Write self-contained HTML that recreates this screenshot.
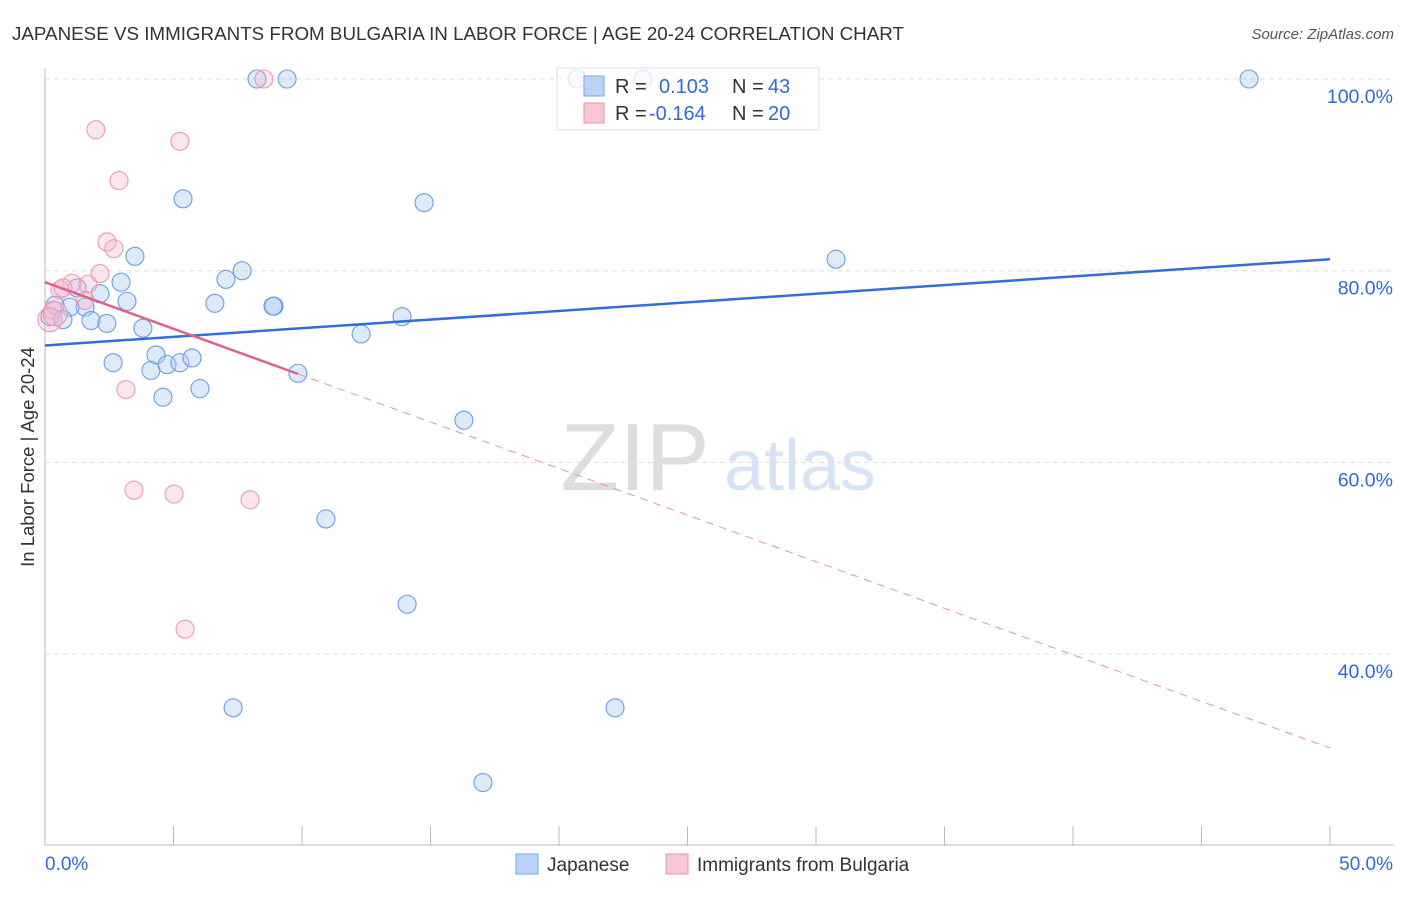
<!DOCTYPE html>
<html><head><meta charset="utf-8"><style>
body{margin:0;background:#fff;font-family:"Liberation Sans",sans-serif;}
svg text{font-family:"Liberation Sans",sans-serif;}
</style></head><body>
<svg id="c" width="1406" height="892" xmlns="http://www.w3.org/2000/svg">
<text x="12" y="40" font-size="18.8" fill="#333">JAPANESE VS IMMIGRANTS FROM BULGARIA IN LABOR FORCE | AGE 20-24 CORRELATION CHART</text>
<text x="1394" y="39" font-size="15" fill="#555" text-anchor="end" font-style="italic">Source: ZipAtlas.com</text>
<text x="34" y="457" font-size="18.5" fill="#333" text-anchor="middle" transform="rotate(-90 34 457)">In Labor Force | Age 20-24</text>
<g><text x="635" y="490" font-size="96" fill="#ddd" font-family="Liberation Serif" text-anchor="middle">ZIP</text><text x="800" y="490" font-size="72" fill="#d6e4f5" text-anchor="middle">atlas</text></g>
<g id="grid"></g><g id="axes"></g><g id="pts"></g><g id="lines"></g>
<g>
<rect x="557" y="68" width="262" height="62" fill="rgba(255,255,255,0.75)" stroke="#ddd"/>
<rect x="584" y="76" width="20" height="20" fill="#b9d3f5" stroke="#7aa6e6"/>
<text x="615" y="93" font-size="20" fill="#333">R = </text><text x="659" y="93" font-size="20" fill="#2f6bd1">0.103</text>
<text x="732" y="93" font-size="20" fill="#333">N = </text><text x="768" y="93" font-size="20" fill="#2f6bd1">43</text>
<rect x="584" y="103" width="20" height="20" fill="#f8c6d4" stroke="#e891ab"/>
<text x="615" y="120" font-size="20" fill="#333">R = </text><text x="649" y="120" font-size="20" fill="#2f6bd1">-0.164</text>
<text x="732" y="120" font-size="20" fill="#333">N = </text><text x="768" y="120" font-size="20" fill="#2f6bd1">20</text>
</g>
<g>
<rect x="516" y="854" width="22" height="20" fill="#b9d3f5" stroke="#7aa6e6"/>
<text x="547" y="871" font-size="19" fill="#333">Japanese</text>
<rect x="666" y="854" width="22" height="20" fill="#f8c6d4" stroke="#e891ab"/>
<text x="697" y="871" font-size="19" fill="#333">Immigrants from Bulgaria</text>
</g>
</svg>
<script>
const jx=[8.25,9.42,20.7,23.27,46.85,5.37,14.75,3.5,30.78,2.96,2.14,3.19,1.25,1.56,0.97,0.39,0.19,0.7,1.79,2.41,3.81,6.61,7.04,7.67,8.91,8.87,2.65,4.32,4.12,4.75,5.25,5.72,4.59,6.03,9.84,13.89,12.3,16.3,10.93,14.09,7.32,22.18,17.04];
const jy=[100,100,100,100,100,87.5,87.1,81.5,81.2,78.8,77.6,76.8,78.2,76.2,76.2,76.4,75.2,74.9,74.8,74.5,74.0,76.6,79.1,80.0,76.3,76.3,70.4,71.2,69.6,70.2,70.4,70.9,66.8,67.7,69.3,75.2,73.4,64.4,54.1,45.2,34.4,34.4,26.6];
const bx=[8.52,1.98,5.25,2.88,2.41,2.68,2.14,1.05,1.67,0.58,0.7,1.56,0.31,3.15,3.46,5.02,7.98,5.45,0.19,0.4];
const by=[100,94.7,93.5,89.4,83.0,82.3,79.7,78.7,78.6,78.0,78.2,76.9,75.9,67.6,57.1,56.7,56.1,42.6,74.9,75.5];
const jTrend=[72.2,81.2], bTrend=[78.8,30.2], bSolidEnd=9.84;
const yTicks=[100,80,60,40], xTicks=[0,5,10,15,20,25,30,35,40,45,50];
const X=v=>45+v*25.7, Y=v=>79+(100-v)*9.585;
const NS='http://www.w3.org/2000/svg';
function mk(p,t,a){const e=document.createElementNS(NS,t);for(const k in a)e.setAttribute(k,a[k]);document.getElementById(p).appendChild(e);return e;}
yTicks.forEach(t=>{const l=mk('grid','line',{x1:45,x2:1394,y1:Y(t),y2:Y(t),stroke:'#ddd','stroke-dasharray':'5,4'});


const tx=mk('grid','text',{x:1393,y:Y(t)+24,'font-size':19.5,fill:'#2f6bd1','text-anchor':'end'});tx.textContent=t.toFixed(1)+'%';

});
const ax=mk('axes','line',{x1:45,x2:45,y1:68,y2:845,stroke:'#bbb'});


const bx0=mk('axes','line',{x1:45,x2:1394,y1:845,y2:845,stroke:'#bbb'});


xTicks.forEach(t=>{const l=mk('axes','line',{x1:X(t),x2:X(t),y1:826,y2:845,stroke:'#bbb'});

});
[[0,'start',45],[50,'end',1393]].forEach(([v,a,x])=>{const t=mk('axes','text',{x:x,y:870,'font-size':19,fill:'#2f6bd1','text-anchor':a});t.textContent=v.toFixed(1)+'%';

});
jx.forEach((v,i)=>{const c=mk('pts','circle',{cx:X(v),cy:Y(jy[i]),r:9,fill:'rgba(170,202,242,0.4)',stroke:'#6a9ee0','stroke-width':1.1});

});
bx.forEach((v,i)=>{const c=mk('pts','circle',{cx:X(v),cy:Y(by[i]),r:i>=18?12:9,fill:'rgba(247,180,202,0.35)',stroke:'#eb9ab3','stroke-width':1.1});

});
const bAt=x=>bTrend[0]+(bTrend[1]-bTrend[0])*x/50;
let l=mk('lines','line',{x1:X(0),y1:Y(jTrend[0]),x2:X(50),y2:Y(jTrend[1]),stroke:'#2f6fd6','stroke-width':2.5});


l=mk('lines','line',{x1:X(0),y1:Y(bTrend[0]),x2:X(bSolidEnd),y2:Y(bAt(bSolidEnd)),stroke:'#e0608a','stroke-width':2.5});


l=mk('lines','line',{x1:X(bSolidEnd),y1:Y(bAt(bSolidEnd)),x2:X(50),y2:Y(bTrend[1]),stroke:'#e891ab','stroke-width':1,'stroke-dasharray':'8,6'});


</script>
</body></html>
